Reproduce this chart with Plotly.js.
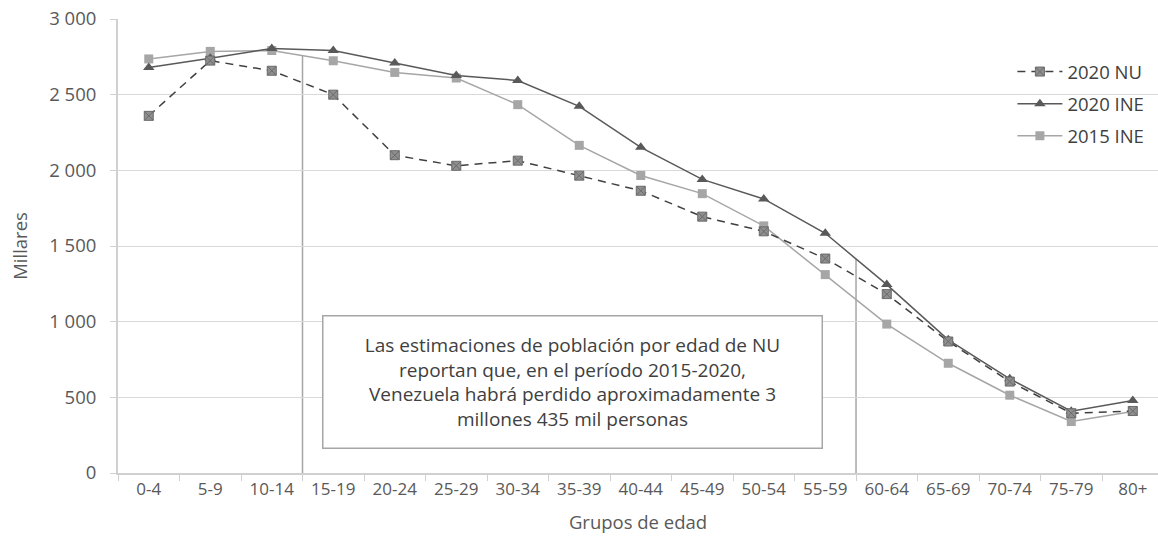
<!DOCTYPE html>
<html>
<head>
<meta charset="utf-8">
<script src="https://cdn.plot.ly/plotly-3.0.1.min.js"></script>
<style>html,body{margin:0;padding:0;background:#fff;overflow:hidden}#chart{width:1158px;height:543px}</style>
</head>
<body>
<div id="chart"></div>
<script>
const categories = ['0-4','5-9','10-14','15-19','20-24','25-29','30-34','35-39','40-44','45-49','50-54','55-59','60-64','65-69','70-74','75-79','80+'];
const nu2020  = [2360, 2725, 2658, 2500, 2100, 2030, 2064, 1965, 1865, 1694, 1597, 1417, 1182, 869, 604, 395, 410];
const ine2020 = [2680, 2740, 2805, 2792, 2709, 2627, 2594, 2423, 2152, 1940, 1811, 1584, 1245, 880, 622, 408, 479];
const ine2015 = [2736, 2786, 2792, 2724, 2647, 2610, 2434, 2165, 1966, 1846, 1633, 1311, 984, 725, 514, 340, 406];
const seriesNames = ['2020 NU', '2020 INE', '2015 INE'];
const yTitle = 'Millares';
const xTitle = 'Grupos de edad';
const noteText = 'Las estimaciones de población por edad de NU<br>reportan que, en el período 2015-2020,<br>Venezuela habrá perdido aproximadamente 3<br>millones 435 mil personas';

const FONT = 'Open Sans, sans-serif';

const traces = [
  {
    x: categories, y: ine2015, name: seriesNames[2], type: 'scatter', mode: 'lines+markers',
    line: {color: '#a6a6a6', width: 1.5},
    marker: {symbol: 'square', size: 9, color: '#a6a6a6'},
    legendrank: 3, legendgroup: 'c'
  },
  {
    x: categories, y: ine2020, name: seriesNames[1], type: 'scatter', mode: 'lines+markers',
    line: {color: '#595959', width: 1.5},
    marker: {symbol: 'triangle-up', size: 10, color: '#595959'},
    legendrank: 2, legendgroup: 'b'
  },
  {
    x: categories, y: nu2020, name: seriesNames[0], type: 'scatter', mode: 'lines+markers',
    line: {color: '#404040', width: 1.5, dash: '8px,6px'},
    marker: {symbol: 'square-x', size: 9, color: '#8f8f8f', line: {color: '#6a6a6a', width: 1}},
    legendrank: 1, legendgroup: 'a'
  }
];

const top1 = (ine2015[2] + ine2015[3]) / 2;
const top2 = (ine2020[11] + ine2020[12]) / 2;

const layout = {
  width: 1158, height: 543,
  margin: {l: 118, r: 0, t: 19, b: 70},
  paper_bgcolor: '#fff', plot_bgcolor: '#fff',
  separators: ', ',
  font: {family: FONT, color: '#595959'},
  showlegend: true,
  legend: {
    x: 0.86, xanchor: 'left', y: 0.925, yanchor: 'top',
    bgcolor: 'rgba(0,0,0,0)', font: {family: FONT, size: 18.5, color: '#404040'},
    traceorder: 'grouped', tracegroupgap: 5, itemwidth: 45
  },
  xaxis: {
    type: 'category', range: [-0.5, 16.41], tickson: 'boundaries',
    showgrid: false, showline: true, linecolor: '#d0d0d0', linewidth: 2,
    ticks: 'outside', ticklen: 6, tickcolor: '#d0d0d0', tickwidth: 1,
    tickfont: {family: FONT, size: 17, color: '#595959'},
    title: {text: xTitle, font: {family: FONT, size: 18.5, color: '#595959'}, standoff: 17},
    fixedrange: true
  },
  yaxis: {
    range: [0, 3000], dtick: 500, tickformat: ',d',
    showgrid: true, gridcolor: '#d9d9d9', gridwidth: 1,
    showline: true, linecolor: '#d0d0d0', linewidth: 2, zeroline: false,
    ticks: 'outside', ticklen: 6, tickcolor: '#d0d0d0', tickwidth: 1,
    ticklabelstandoff: 10,
    tickfont: {family: FONT, size: 18.5, color: '#595959'},
    title: {text: yTitle, font: {family: FONT, size: 18.5, color: '#595959'}, standoff: 17},
    fixedrange: true
  },
  shapes: [
    {type: 'line', xref: 'x', yref: 'y', x0: 2.5, x1: 2.5, y0: 0, y1: top1, line: {color: '#a6a6a6', width: 1.5}, layer: 'below'},
    {type: 'line', xref: 'x', yref: 'y', x0: 11.5, x1: 11.5, y0: 0, y1: top2, line: {color: '#a6a6a6', width: 1.5}, layer: 'below'}
  ],
  annotations: [
    {
      xref: 'x', yref: 'y', x: 6.898, y: 601, text: noteText, showarrow: false,
      width: 496, height: 129, borderpad: 1, borderwidth: 1.5, bordercolor: '#a6a6a6',
      bgcolor: '#ffffff', align: 'center', valign: 'middle',
      font: {family: FONT, size: 19, color: '#404040'}
    }
  ]
};

Plotly.newPlot('chart', traces, layout, {displayModeBar: false, staticPlot: true});
</script>
</body>
</html>
